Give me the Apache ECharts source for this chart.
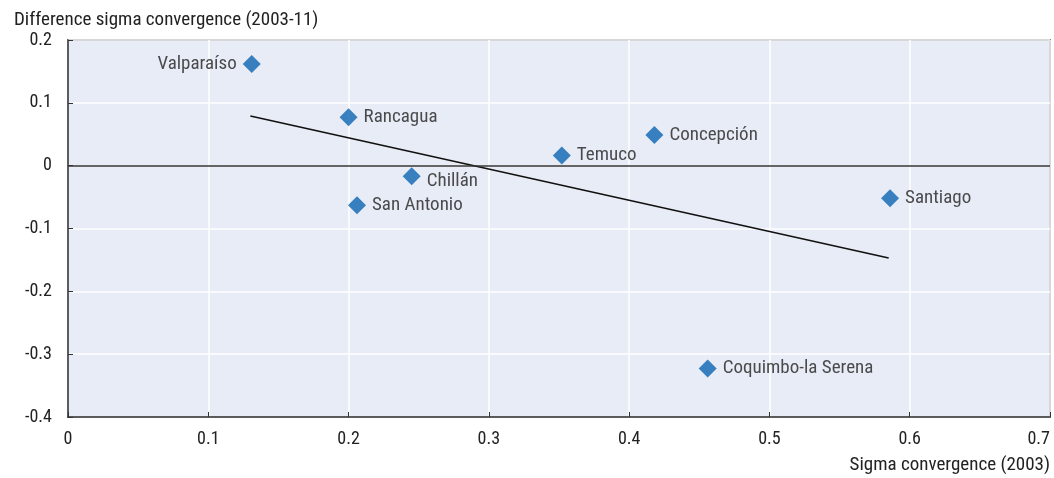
<!DOCTYPE html>
<html>
<head>
<meta charset="utf-8">
<script src="https://cdn.jsdelivr.net/npm/echarts@6/dist/echarts.min.js"></script>
<style>
  html, body { margin: 0; padding: 0; background: #fff; }
  #chart { width: 1054px; height: 478px; }
</style>
</head>
<body>
<div id="chart"></div>
<script>
  // cities and their values
  const cities = ['Valparaíso', 'Rancagua', 'Chillán', 'San Antonio', 'Temuco', 'Concepción', 'Santiago', 'Coquimbo-la Serena']
  const sigma2003 = [0.131, 0.200, 0.245, 0.206, 0.352, 0.418, 0.586, 0.456]
  const sigmaDiff = [0.162, 0.077, -0.017, -0.063, 0.016, 0.049, -0.052, -0.323]
  const labelSide = ['left', 'right', 'right', 'right', 'right', 'right', 'right', 'right']
  // trend line end points
  const trendX = [0.13, 0.585]
  const trendY = [0.079, -0.147]

  const font = '"Liberation Sans Narrow", "Arial Narrow", "Roboto Condensed", "Liberation Sans", sans-serif'
  const textColor = '#222'

  const chart = echarts.init(document.getElementById('chart'))

  const points = cities.map((name, i) => ({
    name: name,
    value: [sigma2003[i], sigmaDiff[i]],
    label: {
      position: labelSide[i],
      offset: name === 'Chillán' ? [0, 5] : [0, 0]
    }
  }))

  const option = {
    animation: false,
    grid: {
      left: 68, right: 4, top: 40, bottom: 61,
      outerBoundsMode: 'none',
      containLabel: false,
      show: true, backgroundColor: '#E8ECF6', borderColor: '#333', borderWidth: 1.5
    },
    title: {
      text: 'Difference sigma convergence (2003-11)',
      left: 9,
      top: 6,
      textStyle: { fontFamily: font, fontSize: 19, fontWeight: 'normal', color: textColor }
    },
    graphic: [{
      type: 'text',
      right: 4,
      top: 456,
      style: { text: 'Sigma convergence (2003)', font: '19px ' + font, fill: textColor }
    }],
    xAxis: {
      type: 'value',
      min: 0, max: 0.7, interval: 0.1,
      axisLine: { show: true, onZero: false, lineStyle: { color: '#333', width: 1.5 } },
      axisTick: { show: true, inside: true, length: 5, lineStyle: { color: '#333' } },
      splitLine: { show: true, lineStyle: { color: '#fff', width: 1.5 } },
      axisLabel: {
        fontFamily: font, fontSize: 18, color: textColor, margin: 13,
        alignMaxLabel: 'right',
        formatter: v => String(+v.toFixed(1))
      }
    },
    yAxis: {
      type: 'value',
      min: -0.4, max: 0.2, interval: 0.1,
      axisLine: { show: true, onZero: false, lineStyle: { color: '#333', width: 1.5 } },
      axisTick: { show: true, inside: true, length: 5, lineStyle: { color: '#333' } },
      splitLine: { show: true, lineStyle: { color: '#fff', width: 1.5 } },
      axisLabel: { fontFamily: font, fontSize: 18, color: textColor, margin: 16, formatter: v => String(+v.toFixed(1)) }
    },
    series: [
      {
        type: 'line',
        data: trendX.map((x, i) => [x, trendY[i]]),
        symbol: 'none',
        lineStyle: { color: '#111', width: 1.6 },
        z: 3,
        markLine: {
          silent: true,
          symbol: 'none',
          label: { show: false },
          lineStyle: { color: '#333', type: 'solid', width: 1.5 },
          data: [{ yAxis: 0 }]
        }
      },
      {
        type: 'scatter',
        data: points,
        symbol: 'diamond',
        symbolSize: 18,
        itemStyle: { color: '#0A64B2' },
        z: 5,
        label: {
          show: true,
          formatter: '{b}',
          fontFamily: font,
          fontSize: 19,
          color: textColor,
          distance: 6
        }
      }
    ]
  }

  chart.setOption(option)
</script>
</body>
</html>
